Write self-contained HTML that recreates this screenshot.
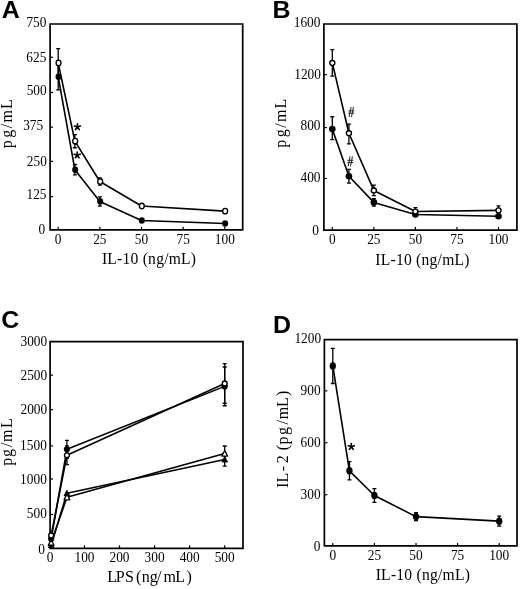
<!DOCTYPE html>
<html><head><meta charset="utf-8"><style>
html,body{margin:0;padding:0;background:#fff;}
body{width:520px;height:589px;overflow:hidden;font-family:"Liberation Serif", serif;}
svg{display:block;will-change:transform;}
</style></head><body>
<svg width="520" height="589" viewBox="0 0 520 589" font-family='"Liberation Serif", serif' fill="#000">
<rect width="520" height="589" fill="#fff"/>
<text transform="translate(1.8 18.2) scale(1.04 1)" font-family='"Liberation Sans", sans-serif' font-weight="bold" font-size="24">A</text>
<path d="M50.1 24V229.8H242.7V24Z" fill="none" stroke="#000" stroke-width="1.7" stroke-linejoin="miter"/>
<path d="M50.1 57.25H53.1" stroke="#000" stroke-width="1.2"/>
<path d="M50.1 92.4H53.1" stroke="#000" stroke-width="1.2"/>
<path d="M50.1 127.1H53.1" stroke="#000" stroke-width="1.2"/>
<path d="M50.1 161.3H53.1" stroke="#000" stroke-width="1.2"/>
<path d="M50.1 196.6H53.1" stroke="#000" stroke-width="1.2"/>
<text transform="translate(46.4 26.7) scale(0.89 1)" text-anchor="end" font-size="15">750</text>
<text transform="translate(46.3 61.55) scale(0.89 1)" text-anchor="end" font-size="15">625</text>
<text transform="translate(46.7 94.7) scale(0.89 1)" text-anchor="end" font-size="15">500</text>
<text transform="translate(43.2 130) scale(0.89 1)" text-anchor="end" font-size="15">375</text>
<text transform="translate(46.8 166) scale(0.89 1)" text-anchor="end" font-size="15">250</text>
<text transform="translate(46.5 199.1) scale(0.89 1)" text-anchor="end" font-size="15">125</text>
<text transform="translate(45.2 234.1) scale(0.89 1)" text-anchor="end" font-size="15">0</text>
<path d="M58.2 229.8V226.8" stroke="#000" stroke-width="1.2"/>
<text transform="translate(58.2 243.6) scale(0.89 1)" text-anchor="middle" font-size="15">0</text>
<path d="M99.85 229.8V226.8" stroke="#000" stroke-width="1.2"/>
<text transform="translate(99.85 243.6) scale(0.89 1)" text-anchor="middle" font-size="15">25</text>
<path d="M141.5 229.8V226.8" stroke="#000" stroke-width="1.2"/>
<text transform="translate(141.5 243.6) scale(0.89 1)" text-anchor="middle" font-size="15">50</text>
<path d="M183.15 229.8V226.8" stroke="#000" stroke-width="1.2"/>
<text transform="translate(183.15 243.6) scale(0.89 1)" text-anchor="middle" font-size="15">75</text>
<path d="M224.8 229.8V226.8" stroke="#000" stroke-width="1.2"/>
<text transform="translate(224.8 243.6) scale(0.89 1)" text-anchor="middle" font-size="15">100</text>
<text transform="translate(11.9 148.6) rotate(-90)" x="0.3 10.9 20.4 26 39.5" y="0" font-size="16">pg/mL</text>
<text transform="translate(149.1 264.3) scale(0.94 1)" text-anchor="middle" font-size="16.6" letter-spacing="0.25">IL-10 (ng/mL)</text>
<polyline points="58.2,62.96 74.86,141.17 99.85,181.51 141.5,206.06 224.8,211.14" fill="none" stroke="#000" stroke-width="1.6" stroke-linejoin="round"/>
<polyline points="58.2,76.68 74.86,169.71 99.85,201.54 141.5,220.47 224.8,223.49" fill="none" stroke="#000" stroke-width="1.6" stroke-linejoin="round"/>
<path d="M58.2 63.51V89.86M56.2 63.51H60.2M56.2 89.86H60.2" stroke="#000" stroke-width="1.3" fill="none"/>
<path d="M74.86 164.49V174.92M72.86 164.49H76.86M72.86 174.92H76.86" stroke="#000" stroke-width="1.3" fill="none"/>
<path d="M99.85 196.87V206.2M97.85 196.87H101.85M97.85 206.2H101.85" stroke="#000" stroke-width="1.3" fill="none"/>
<path d="M58.2 48.7V77.23M56.2 48.7H60.2M56.2 77.23H60.2" stroke="#000" stroke-width="1.3" fill="none"/>
<path d="M74.86 134.58V147.75M72.86 134.58H76.86M72.86 147.75H76.86" stroke="#000" stroke-width="1.3" fill="none"/>
<path d="M99.85 177.94V185.07M97.85 177.94H101.85M97.85 185.07H101.85" stroke="#000" stroke-width="1.3" fill="none"/>
<ellipse cx="58.53" cy="76.68" rx="3.0" ry="3.3" fill="#000"/>
<ellipse cx="75.19" cy="169.71" rx="3.0" ry="3.3" fill="#000"/>
<ellipse cx="100.18" cy="201.54" rx="3.0" ry="3.3" fill="#000"/>
<ellipse cx="141.83" cy="220.47" rx="3.0" ry="3.3" fill="#000"/>
<ellipse cx="225.13" cy="223.49" rx="3.0" ry="3.3" fill="#000"/>
<ellipse cx="58.53" cy="62.96" rx="2.45" ry="2.8" fill="#fff" stroke="#000" stroke-width="1.35"/>
<ellipse cx="75.19" cy="141.17" rx="2.45" ry="2.8" fill="#fff" stroke="#000" stroke-width="1.35"/>
<ellipse cx="100.18" cy="181.51" rx="2.45" ry="2.8" fill="#fff" stroke="#000" stroke-width="1.35"/>
<ellipse cx="141.83" cy="206.06" rx="2.45" ry="2.8" fill="#fff" stroke="#000" stroke-width="1.35"/>
<ellipse cx="225.13" cy="211.14" rx="2.45" ry="2.8" fill="#fff" stroke="#000" stroke-width="1.35"/>
<path d="M77.4 127L77.4 123.9M77.4 127L80.35 126.04M77.4 127L79.22 129.51M77.4 127L75.58 129.51M77.4 127L74.45 126.04" stroke="#000" stroke-width="1.7" stroke-linecap="round" fill="none"/>
<path d="M77.2 155.2L77.2 152.1M77.2 155.2L80.15 154.24M77.2 155.2L79.02 157.71M77.2 155.2L75.38 157.71M77.2 155.2L74.25 154.24" stroke="#000" stroke-width="1.7" stroke-linecap="round" fill="none"/>
<text transform="translate(272.6 18.2) scale(1.04 1)" font-family='"Liberation Sans", sans-serif' font-weight="bold" font-size="24">B</text>
<path d="M323.9 24V230.1H516.9V24Z" fill="none" stroke="#000" stroke-width="1.7" stroke-linejoin="miter"/>
<path d="M323.9 74.7H326.9" stroke="#000" stroke-width="1.2"/>
<path d="M323.9 127.6H326.9" stroke="#000" stroke-width="1.2"/>
<path d="M323.9 178.5H326.9" stroke="#000" stroke-width="1.2"/>
<text transform="translate(320.4 27.1) scale(0.89 1)" text-anchor="end" font-size="15">1600</text>
<text transform="translate(320.9 79.05) scale(0.89 1)" text-anchor="end" font-size="15">1200</text>
<text transform="translate(320.5 130.05) scale(0.89 1)" text-anchor="end" font-size="15">800</text>
<text transform="translate(320.5 181.6) scale(0.89 1)" text-anchor="end" font-size="15">400</text>
<text transform="translate(318.9 234.6) scale(0.89 1)" text-anchor="end" font-size="15">0</text>
<path d="M332.3 230.1V227.1" stroke="#000" stroke-width="1.2"/>
<text transform="translate(332.3 244.2) scale(0.89 1)" text-anchor="middle" font-size="15">0</text>
<path d="M373.85 230.1V227.1" stroke="#000" stroke-width="1.2"/>
<text transform="translate(373.85 244.2) scale(0.89 1)" text-anchor="middle" font-size="15">25</text>
<path d="M415.4 230.1V227.1" stroke="#000" stroke-width="1.2"/>
<text transform="translate(415.4 244.2) scale(0.89 1)" text-anchor="middle" font-size="15">50</text>
<path d="M456.95 230.1V227.1" stroke="#000" stroke-width="1.2"/>
<text transform="translate(456.95 244.2) scale(0.89 1)" text-anchor="middle" font-size="15">75</text>
<path d="M498.5 230.1V227.1" stroke="#000" stroke-width="1.2"/>
<text transform="translate(498.5 244.2) scale(0.89 1)" text-anchor="middle" font-size="15">100</text>
<text transform="translate(285.7 148.1) rotate(-90)" x="0.3 10.9 20.4 26 39.5" y="0" font-size="16">pg/mL</text>
<text transform="translate(422.5 264.6) scale(0.94 1)" text-anchor="middle" font-size="16.6" letter-spacing="0.25">IL-10 (ng/mL)</text>
<polyline points="332.3,62.9 348.92,133.23 373.85,190.43 415.4,211.55 498.5,210.39" fill="none" stroke="#000" stroke-width="1.6" stroke-linejoin="round"/>
<polyline points="332.3,129.11 348.92,176.26 373.85,202.41 415.4,214.51 498.5,216.32" fill="none" stroke="#000" stroke-width="1.6" stroke-linejoin="round"/>
<path d="M332.3 116.74V139.67M330.3 116.74H334.3M330.3 139.67H334.3" stroke="#000" stroke-width="1.3" fill="none"/>
<path d="M348.92 169.43V183.08M346.92 169.43H350.92M346.92 183.08H350.92" stroke="#000" stroke-width="1.3" fill="none"/>
<path d="M373.85 198.67V206.14M371.85 198.67H375.85M371.85 206.14H375.85" stroke="#000" stroke-width="1.3" fill="none"/>
<path d="M332.3 49.63V76.17M330.3 49.63H334.3M330.3 76.17H334.3" stroke="#000" stroke-width="1.3" fill="none"/>
<path d="M348.92 124.09V143.92M346.92 124.09H350.92M346.92 143.92H350.92" stroke="#000" stroke-width="1.3" fill="none"/>
<path d="M373.85 185.14V195.71M371.85 185.14H375.85M371.85 195.71H375.85" stroke="#000" stroke-width="1.3" fill="none"/>
<path d="M415.4 207.69V215.42M413.4 207.69H417.4M413.4 215.42H417.4" stroke="#000" stroke-width="1.3" fill="none"/>
<path d="M498.5 205.88V214.9M496.5 205.88H500.5M496.5 214.9H500.5" stroke="#000" stroke-width="1.3" fill="none"/>
<ellipse cx="332.3" cy="129.11" rx="3.3" ry="3.3" fill="#000"/>
<ellipse cx="348.92" cy="176.26" rx="3.3" ry="3.3" fill="#000"/>
<ellipse cx="373.85" cy="202.41" rx="3.3" ry="3.3" fill="#000"/>
<ellipse cx="415.4" cy="214.51" rx="3.3" ry="3.3" fill="#000"/>
<ellipse cx="498.5" cy="216.32" rx="3.3" ry="3.3" fill="#000"/>
<ellipse cx="332.3" cy="62.9" rx="2.55" ry="2.45" fill="#fff" stroke="#000" stroke-width="1.35"/>
<ellipse cx="348.92" cy="133.23" rx="2.55" ry="2.45" fill="#fff" stroke="#000" stroke-width="1.35"/>
<ellipse cx="373.85" cy="190.43" rx="2.55" ry="2.45" fill="#fff" stroke="#000" stroke-width="1.35"/>
<ellipse cx="415.4" cy="211.55" rx="2.55" ry="2.45" fill="#fff" stroke="#000" stroke-width="1.35"/>
<ellipse cx="498.5" cy="210.39" rx="2.55" ry="2.45" fill="#fff" stroke="#000" stroke-width="1.35"/>
<path d="M351.14 107L349.14 117M353.46 107L351.46 117M348.4 110.9H354.2M348.4 113.2H354.2" stroke="#222" stroke-width="1.0" fill="none"/>
<path d="M350.14 156.4L348.14 166.4M352.46 156.4L350.46 166.4M347.4 160.3H353.2M347.4 162.6H353.2" stroke="#222" stroke-width="1.0" fill="none"/>
<text transform="translate(1.3 328.4) scale(1.04 1)" font-family='"Liberation Sans", sans-serif' font-weight="bold" font-size="24">C</text>
<path d="M50.1 341.6V548.3H243V341.6Z" fill="none" stroke="#000" stroke-width="1.7" stroke-linejoin="miter"/>
<path d="M50.1 375.1H53.1" stroke="#000" stroke-width="1.2"/>
<path d="M50.1 409.7H53.1" stroke="#000" stroke-width="1.2"/>
<path d="M50.1 445.9H53.1" stroke="#000" stroke-width="1.2"/>
<path d="M50.1 479H53.1" stroke="#000" stroke-width="1.2"/>
<path d="M50.1 514.5H53.1" stroke="#000" stroke-width="1.2"/>
<text transform="translate(47.2 345.8) scale(0.89 1)" text-anchor="end" font-size="15">3000</text>
<text transform="translate(47.2 379.9) scale(0.89 1)" text-anchor="end" font-size="15">2500</text>
<text transform="translate(47.2 413.7) scale(0.89 1)" text-anchor="end" font-size="15">2000</text>
<text transform="translate(46.8 450) scale(0.89 1)" text-anchor="end" font-size="15">1500</text>
<text transform="translate(46.8 483.6) scale(0.89 1)" text-anchor="end" font-size="15">1000</text>
<text transform="translate(46.8 518.4) scale(0.89 1)" text-anchor="end" font-size="15">500</text>
<text transform="translate(45 554) scale(0.89 1)" text-anchor="end" font-size="15">0</text>
<text transform="translate(50.2 562.4) scale(0.89 1)" text-anchor="middle" font-size="15">0</text>
<path d="M84.46 548.3V545.3" stroke="#000" stroke-width="1.2"/>
<text transform="translate(84.46 562.4) scale(0.89 1)" text-anchor="middle" font-size="15">100</text>
<path d="M119.52 548.3V545.3" stroke="#000" stroke-width="1.2"/>
<text transform="translate(119.52 562.4) scale(0.89 1)" text-anchor="middle" font-size="15">200</text>
<path d="M154.58 548.3V545.3" stroke="#000" stroke-width="1.2"/>
<text transform="translate(154.58 562.4) scale(0.89 1)" text-anchor="middle" font-size="15">300</text>
<path d="M189.64 548.3V545.3" stroke="#000" stroke-width="1.2"/>
<text transform="translate(189.64 562.4) scale(0.89 1)" text-anchor="middle" font-size="15">400</text>
<path d="M224.7 548.3V545.3" stroke="#000" stroke-width="1.2"/>
<text transform="translate(224.7 562.4) scale(0.89 1)" text-anchor="middle" font-size="15">500</text>
<text transform="translate(11.9 466.1) rotate(-90)" x="0.3 9.2 19.2 24.2 38.2" y="0" font-size="16">pg/mL</text>
<text x="107.3 115.8 124.9 135.9 141.8 149.8 156.9 163.5 175.3 186.4" y="582.3" font-size="16">LPS(ng/mL)</text>
<polyline points="51.15,545.27 66.93,493.18 224.7,459.56" fill="none" stroke="#000" stroke-width="1.6" stroke-linejoin="round"/>
<polyline points="51.15,542.79 66.93,497.31 224.7,453.56" fill="none" stroke="#000" stroke-width="1.6" stroke-linejoin="round"/>
<polyline points="51.15,538.79 66.93,449.29 224.7,386.38" fill="none" stroke="#000" stroke-width="1.6" stroke-linejoin="round"/>
<polyline points="51.15,535.48 66.93,455.28 224.7,383.42" fill="none" stroke="#000" stroke-width="1.6" stroke-linejoin="round"/>
<path d="M224.7 453.01V466.1M222.7 453.01H226.7M222.7 466.1H226.7" stroke="#000" stroke-width="1.3" fill="none"/>
<path d="M224.7 445.98V461.14M222.7 445.98H226.7M222.7 461.14H226.7" stroke="#000" stroke-width="1.3" fill="none"/>
<path d="M66.93 440.33V458.25M64.93 440.33H68.93M64.93 458.25H68.93" stroke="#000" stroke-width="1.3" fill="none"/>
<path d="M66.93 445.85V464.72M64.93 445.85H68.93M64.93 464.72H68.93" stroke="#000" stroke-width="1.3" fill="none"/>
<path d="M224.7 367.02V405.75M222.7 367.02H226.7M222.7 405.75H226.7" stroke="#000" stroke-width="1.3" fill="none"/>
<path d="M224.7 363.58V403.27M222.7 363.58H226.7M222.7 403.27H226.7" stroke="#000" stroke-width="1.3" fill="none"/>
<polygon points="51.15,542.24 48.25,547.75 54.05,547.75" fill="#000" stroke="#000" stroke-width="0.8" stroke-linejoin="round"/>
<polygon points="66.93,490.15 64.03,495.66 69.83,495.66" fill="#000" stroke="#000" stroke-width="0.8" stroke-linejoin="round"/>
<polygon points="224.7,456.53 221.8,462.04 227.6,462.04" fill="#000" stroke="#000" stroke-width="0.8" stroke-linejoin="round"/>
<polygon points="51.15,539.76 48.25,545.27 54.05,545.27" fill="#fff" stroke="#000" stroke-width="1.3" stroke-linejoin="round"/>
<polygon points="66.93,494.28 64.03,499.79 69.83,499.79" fill="#fff" stroke="#000" stroke-width="1.3" stroke-linejoin="round"/>
<polygon points="224.7,450.53 221.8,456.04 227.6,456.04" fill="#fff" stroke="#000" stroke-width="1.3" stroke-linejoin="round"/>
<ellipse cx="51.15" cy="538.79" rx="3.1" ry="3.1" fill="#000"/>
<ellipse cx="66.93" cy="449.29" rx="3.1" ry="3.1" fill="#000"/>
<ellipse cx="224.7" cy="386.38" rx="3.1" ry="3.1" fill="#000"/>
<ellipse cx="51.15" cy="535.48" rx="2.45" ry="2.45" fill="#fff" stroke="#000" stroke-width="1.35"/>
<ellipse cx="66.93" cy="455.28" rx="2.45" ry="2.45" fill="#fff" stroke="#000" stroke-width="1.35"/>
<ellipse cx="224.7" cy="383.42" rx="2.45" ry="2.45" fill="#fff" stroke="#000" stroke-width="1.35"/>
<text transform="translate(273 332.6) scale(1.04 1)" font-family='"Liberation Sans", sans-serif' font-weight="bold" font-size="24">D</text>
<path d="M324.4 339.7V545.9H517V339.7Z" fill="none" stroke="#000" stroke-width="1.7" stroke-linejoin="miter"/>
<path d="M324.4 390.8H327.4" stroke="#000" stroke-width="1.2"/>
<path d="M324.4 442.7H327.4" stroke="#000" stroke-width="1.2"/>
<path d="M324.4 494.7H327.4" stroke="#000" stroke-width="1.2"/>
<text transform="translate(321.1 342.7) scale(0.89 1)" text-anchor="end" font-size="15">1200</text>
<text transform="translate(320.6 395.2) scale(0.89 1)" text-anchor="end" font-size="15">900</text>
<text transform="translate(320.6 446.8) scale(0.89 1)" text-anchor="end" font-size="15">600</text>
<text transform="translate(320.6 498.5) scale(0.89 1)" text-anchor="end" font-size="15">300</text>
<text transform="translate(320.3 550.9) scale(0.89 1)" text-anchor="end" font-size="15">0</text>
<path d="M332.8 545.9V542.9" stroke="#000" stroke-width="1.2"/>
<text transform="translate(332.8 559.6) scale(0.89 1)" text-anchor="middle" font-size="15">0</text>
<path d="M374.4 545.9V542.9" stroke="#000" stroke-width="1.2"/>
<text transform="translate(374.4 559.6) scale(0.89 1)" text-anchor="middle" font-size="15">25</text>
<path d="M416 545.9V542.9" stroke="#000" stroke-width="1.2"/>
<text transform="translate(416 559.6) scale(0.89 1)" text-anchor="middle" font-size="15">50</text>
<path d="M457.6 545.9V542.9" stroke="#000" stroke-width="1.2"/>
<text transform="translate(457.6 559.6) scale(0.89 1)" text-anchor="middle" font-size="15">75</text>
<path d="M499.2 545.9V542.9" stroke="#000" stroke-width="1.2"/>
<text transform="translate(499.2 559.6) scale(0.89 1)" text-anchor="middle" font-size="15">100</text>
<text transform="translate(287.9 489.5) rotate(-90)" x="1.4 7 18.3 26.3 39.3 45 54.5 65 70.2 82.5 93.4" y="0" font-size="16">IL-2(pg/mL)</text>
<text transform="translate(422.9 580) scale(0.94 1)" text-anchor="middle" font-size="16.6" letter-spacing="0.25">IL-10 (ng/mL)</text>
<polyline points="332.8,365.99 349.44,470.81 374.4,495.55 416,516.6 499.2,521.16" fill="none" stroke="#000" stroke-width="1.6" stroke-linejoin="round"/>
<path d="M332.8 348.46V383.52M330.8 348.46H334.8M330.8 383.52H334.8" stroke="#000" stroke-width="1.3" fill="none"/>
<path d="M349.44 461.7V479.92M347.44 461.7H351.44M347.44 479.92H351.44" stroke="#000" stroke-width="1.3" fill="none"/>
<path d="M374.4 488.68V502.43M372.4 488.68H376.4M372.4 502.43H376.4" stroke="#000" stroke-width="1.3" fill="none"/>
<path d="M416 512.65V520.55M414 512.65H418M414 520.55H418" stroke="#000" stroke-width="1.3" fill="none"/>
<path d="M499.2 516.17V526.14M497.2 516.17H501.2M497.2 526.14H501.2" stroke="#000" stroke-width="1.3" fill="none"/>
<ellipse cx="332.8" cy="365.99" rx="3.15" ry="3.7" fill="#000"/>
<ellipse cx="349.44" cy="470.81" rx="3.15" ry="3.7" fill="#000"/>
<ellipse cx="374.4" cy="495.55" rx="3.15" ry="3.7" fill="#000"/>
<ellipse cx="416" cy="516.6" rx="3.15" ry="3.7" fill="#000"/>
<ellipse cx="499.2" cy="521.16" rx="3.15" ry="3.7" fill="#000"/>
<path d="M351.3 446.7L351.3 443.6M351.3 446.7L354.25 445.74M351.3 446.7L353.12 449.21M351.3 446.7L349.48 449.21M351.3 446.7L348.35 445.74" stroke="#000" stroke-width="1.7" stroke-linecap="round" fill="none"/>
</svg>
</body></html>
